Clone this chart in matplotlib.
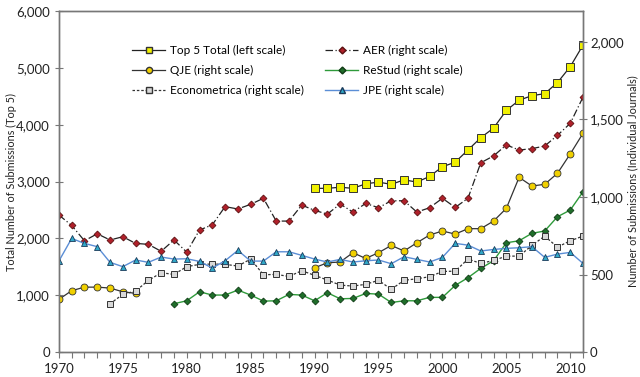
import matplotlib.pyplot as plt
import matplotlib.ticker as mticker
from matplotlib.lines import Line2D
import numpy as np

plt.rcParams['font.family'] = ['Lato', 'DejaVu Sans']

# Top 5 total (left scale), 1990-2011
top5_years = np.arange(1990, 2012)
top5 = [2880, 2880, 2900, 2880, 2960, 2990, 2950, 3030, 2990, 3090, 3260,
        3340, 3555, 3770, 3940, 4250, 4430, 4510, 4545, 4740, 5020, 5400]

# AER (right scale), 1970-2011
aer_years = np.arange(1970, 2012)
aer = [884, 817, 718, 763, 723, 744, 701, 695, 650, 723, 645, 787, 821, 938,
       923, 953, 992, 845, 845, 948, 914, 890, 955, 903, 959, 931, 976, 976,
       903, 931, 992, 933, 992, 1221, 1265, 1336, 1303, 1312, 1329, 1398,
       1475, 1645]

# QJE (right scale), 1970-1976 and 1990-2011
qje_years_a = np.arange(1970, 1977)
qje_a = [340, 396, 419, 419, 413, 389, 379]
qje_years_b = np.arange(1990, 2012)
qje_b = [544, 576, 581, 641, 604, 641, 688, 652, 705, 755, 781, 761, 796, 796,
         845, 927, 1127, 1071, 1082, 1153, 1278, 1411]

# ReStud (right scale), 1979-2011
restud_years = np.arange(1979, 2012)
restud = [312, 331, 389, 368, 368, 400, 368, 329, 331, 372, 368, 331, 383,
          344, 346, 378, 374, 320, 331, 331, 353, 353, 430, 480, 540, 589,
          705, 718, 766, 781, 873, 916, 1034]

# Econometrica (right scale), 1974-2011
ecta_years = np.arange(1974, 2012)
ecta = [312, 372, 394, 462, 512, 501, 551, 566, 568, 566, 555, 600, 499, 501,
        488, 525, 495, 465, 432, 426, 437, 463, 405, 463, 473, 486, 520, 522,
        600, 572, 591, 619, 619, 688, 748, 677, 718, 748]

# JPE (right scale), 1970-2011
jpe_years = np.arange(1970, 2012)
jpe = [587, 733, 701, 680, 579, 551, 594, 579, 613, 600, 602, 585, 542, 589,
       656, 587, 587, 647, 647, 624, 600, 581, 598, 581, 589, 594, 570, 615,
       598, 581, 611, 701, 690, 652, 662, 669, 673, 680, 611, 632, 643, 572]

fig = plt.figure(figsize=(6.4, 3.77), dpi=100)
ax = fig.add_axes([0.092, 0.066, 0.819, 0.905])
ax2 = ax.twinx()

# right-scale series
ax2.plot(aer_years, aer, color='#222222', lw=0.9, dashes=(6, 2, 1, 2),
         marker='D', ms=3.5, mfc='#b0202a', mec='#5a1010', mew=0.6)
ax2.plot(qje_years_a, qje_a, color='#333333', lw=0.9,
         marker='o', ms=5, mfc='#f0d000', mec='#333333', mew=0.6)
ax2.plot(qje_years_b, qje_b, color='#333333', lw=0.9,
         marker='o', ms=5, mfc='#f0d000', mec='#333333', mew=0.6)
ax2.plot(restud_years, restud, color='#2e9a3a', lw=1.0,
         marker='D', ms=3.5, mfc='#1f6e2a', mec='#103a15', mew=0.6)
ax2.plot(ecta_years, ecta, color='#333333', lw=0.9, dashes=(2, 1.5),
         marker='s', ms=5, mfc='#d8d8d8', mec='#333333', mew=0.7)
ax2.plot(jpe_years, jpe, color='#5b8ed6', lw=1.0,
         marker='^', ms=5, mfc='#30a8c8', mec='#1a3a5a', mew=0.6)

# left-scale series
ax.plot(top5_years, top5, color='#222222', lw=0.9,
        marker='s', ms=5.5, mfc='#f0f000', mec='#333333', mew=0.7)

ax.set_xlim(1970, 2011)
ax.set_ylim(0, 6000)
ax2.set_ylim(0, 2200)
ax.set_yticks(np.arange(0, 6001, 1000))
ax2.set_yticks([0, 500, 1000, 1500, 2000])
fmt = mticker.FuncFormatter(lambda v, p: f'{int(v):,}')
ax.yaxis.set_major_formatter(fmt)
ax2.yaxis.set_major_formatter(fmt)
ax.set_xticks(np.arange(1970, 2011, 5))
ax.xaxis.set_minor_locator(mticker.MultipleLocator(1))

for a in (ax, ax2):
    for s in a.spines.values():
        s.set_color('#777777')
        s.set_linewidth(1.0)
    a.tick_params(colors='#777777', labelcolor='#222222', labelsize=9.5,
                  direction='inout', length=6, width=0.8)
ax.tick_params(axis='x', which='minor', direction='out', length=4,
               color='#777777', width=0.8)
ax.tick_params(axis='x', which='major', direction='out', length=4)
ax2.tick_params(axis='y', pad=2)

ax.set_ylabel('Total Number of Submissions (Top 5)', fontsize=7.8,
              color='#222222')
ax.yaxis.set_label_coords(-0.08, 0.5)
ax2.set_ylabel('Number of Submissions (Individual Journals)', fontsize=7.8,
               color='#222222', rotation=90)
ax2.yaxis.set_label_coords(1.084, 0.5)

# legend (two columns, upper left)
handles = [
    Line2D([], [], color='#222222', lw=0.9, marker='s', ms=5, mfc='#f0f000', mec='#333333'),
    Line2D([], [], color='#333333', lw=0.9, marker='o', ms=4.5, mfc='#f0d000', mec='#333333'),
    Line2D([], [], color='#333333', lw=0.9, dashes=(2, 1.5), marker='s', ms=4.5, mfc='#d8d8d8', mec='#333333'),
    Line2D([], [], color='#222222', lw=0.9, dashes=(6, 2, 1, 2), marker='D', ms=3.5, mfc='#b0202a', mec='#5a1010'),
    Line2D([], [], color='#2e9a3a', lw=1.0, marker='D', ms=3.5, mfc='#1f6e2a', mec='#103a15'),
    Line2D([], [], color='#5b8ed6', lw=1.0, marker='^', ms=4.5, mfc='#30a8c8', mec='#1a3a5a'),
]
labels = ['Top 5 Total (left scale)', 'QJE (right scale)',
          'Econometrica (right scale)', 'AER (right scale)',
          'ReStud (right scale)', 'JPE (right scale)']
ax2.legend(handles, labels, ncol=2, frameon=False, fontsize=8.5,
           loc='upper left', bbox_to_anchor=(0.12, 0.93),
           handlelength=2.8, columnspacing=1.8, labelspacing=0.75,
           handletextpad=0.4)

fig.savefig('out.png', dpi=100)
